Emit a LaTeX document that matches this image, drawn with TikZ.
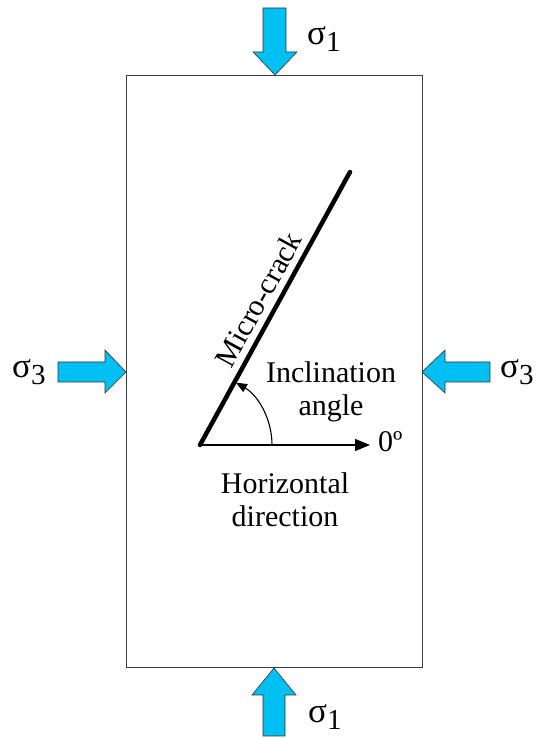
\documentclass[tikz,border=0pt]{standalone}
\usepackage{fontspec}
\setmainfont{Liberation Serif}
\usetikzlibrary{arrows.meta}
\definecolor{loadblue}{RGB}{0,191,243}
\newcommand{\sigsub}[1]{{\fontsize{35}{35}\selectfont σ}{\fontsize{29}{29}\selectfont\raisebox{-7pt}{#1}}}
\tikzset{
  load/.style={fill=loadblue,draw=black!80,line width=0.6pt,line join=miter},
  lbl/.style={font=\fontsize{30}{33}\selectfont,align=center,inner sep=0pt},
  siglbl/.style={anchor=base west,inner sep=0pt},
}
\begin{document}
\begin{tikzpicture}[x=1pt,y=1pt]
\useasboundingbox (0,0) rectangle (537,738);
% specimen
\node[draw=black!75,line width=0.9pt,minimum width=296pt,minimum height=592pt,inner sep=0pt] (box) at (274,367) {};
% loads
\draw[load] (263,730) -- (286,730) -- (286,686) -- (297,686) -- (275,663) -- (253,686) -- (263,686) -- cycle;
\draw[load] (263,2) -- (285,2) -- (285,43) -- (296,43) -- (274,70) -- (252,43) -- (263,43) -- cycle;
\draw[load] (58,376) -- (105,376) -- (105,388) -- (126,366) -- (105,345) -- (105,356) -- (58,356) -- cycle;
\draw[load] (490,376) -- (445,376) -- (445,388) -- (422,366) -- (445,345) -- (445,356) -- (490,356) -- cycle;
\node[siglbl] (s1t) at (307,693) {\sigsub{1}};
\node[siglbl] (s1b) at (308,16) {\sigsub{1}};
\node[siglbl] (s3l) at (12,360) {\sigsub{3}};
\node[siglbl] (s3r) at (500,360) {\sigsub{3}};
% crack
\coordinate (A) at (200,293);
\coordinate (B) at (350,566);
\coordinate (H) at (370,293);
\draw[line width=4.5pt,line cap=round] (A) -- (B)
  node[pos=0.5,sloped,above=6pt,lbl] (mc) {Micro-crack};
\draw[line width=1.3pt,-{Triangle[length=15pt,width=12pt]}] (A) -- (H);
\node[lbl,anchor=base west] (zero) at (378,286) {0º};
\draw[line width=1.1pt,-{Triangle[length=11pt,width=9pt]}] ([shift={(0:72)}]A) arc (0:60:72);
\node[lbl] (incl) at (331,346) {Inclination\\angle};
\node[lbl] (hd) at (285,238) {Horizontal\\direction};
\end{tikzpicture}
\end{document}
